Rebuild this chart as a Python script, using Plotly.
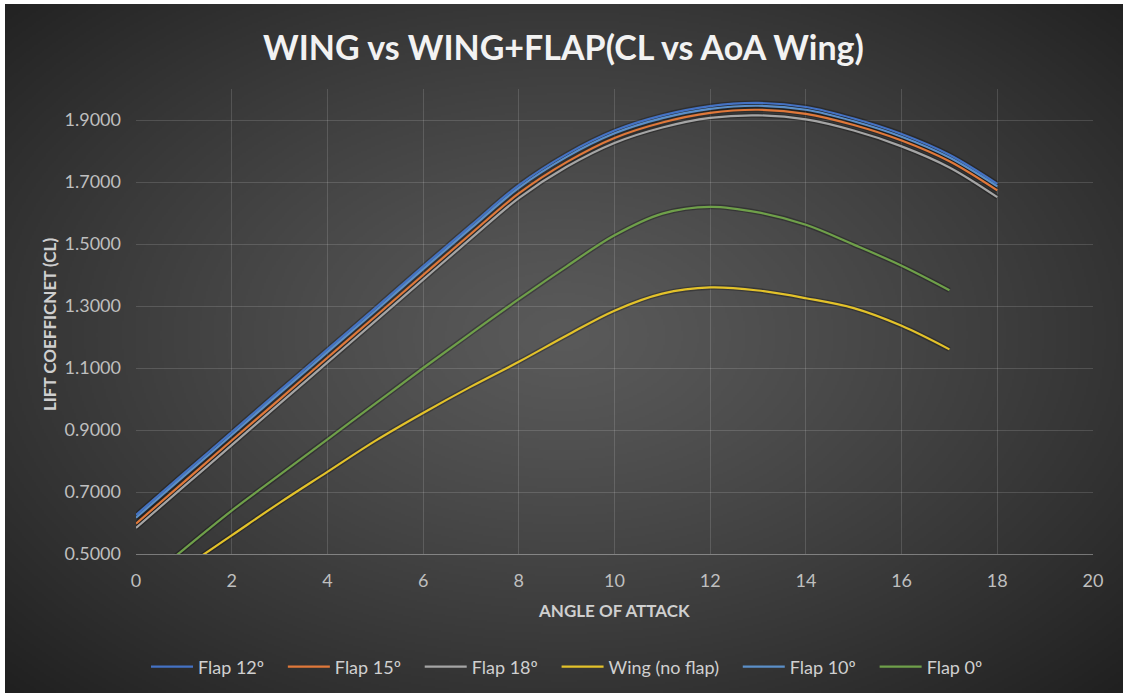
import base64
import struct
import zlib

import numpy as np
import plotly.graph_objects as go

# ---- data -------------------------------------------------------------
aoa_flap = [0, 1, 2, 3, 4, 5, 6, 7, 8, 9, 10, 11, 12, 13, 14, 15, 16, 17, 18]
aoa_short = [0, 1, 2, 3, 4, 5, 6, 7, 8, 9, 10, 11, 12, 13, 14, 15, 16, 17]

flap12 = [0.626, 0.760, 0.893, 1.027, 1.160, 1.293, 1.428, 1.560, 1.690, 1.790,
          1.866, 1.915, 1.945, 1.955, 1.942, 1.905, 1.855, 1.788, 1.694]
flap15 = [0.598, 0.732, 0.866, 0.999, 1.133, 1.266, 1.400, 1.533, 1.663, 1.764,
          1.842, 1.892, 1.923, 1.933, 1.920, 1.884, 1.834, 1.767, 1.673]
flap18 = [0.584, 0.718, 0.851, 0.985, 1.118, 1.251, 1.385, 1.518, 1.648, 1.749,
          1.826, 1.876, 1.907, 1.915, 1.902, 1.866, 1.815, 1.747, 1.651]
wing = [0.350, 0.455, 0.560, 0.665, 0.765, 0.865, 0.955, 1.040, 1.120, 1.205,
        1.285, 1.340, 1.360, 1.350, 1.325, 1.293, 1.236, 1.160]
flap10 = [0.617, 0.751, 0.884, 1.018, 1.151, 1.284, 1.419, 1.551, 1.681, 1.781,
          1.857, 1.906, 1.936, 1.946, 1.933, 1.896, 1.846, 1.779, 1.686]
flap0 = [0.390, 0.515, 0.640, 0.755, 0.870, 0.985, 1.100, 1.212, 1.322, 1.428,
         1.528, 1.598, 1.620, 1.602, 1.562, 1.498, 1.430, 1.351]

series_names = ["Flap 12º", "Flap 15º", "Flap 18º", "Wing (no flap)", "Flap 10º", "Flap 0º"]
series_x = [aoa_flap, aoa_flap, aoa_flap, aoa_short, aoa_flap, aoa_short]
series_y = [flap12, flap15, flap18, wing, flap10, flap0]
series_colors = ["#4472C4", "#E0783A", "#A5A5A5", "#E3C22A", "#5B8FC8", "#6FA04A"]

y_ticks = [0.5, 0.7, 0.9, 1.1, 1.3, 1.5, 1.7, 1.9]
x_ticks = [0, 2, 4, 6, 8, 10, 12, 14, 16, 18, 20]

# ---- geometry ---------------------------------------------------------
W, H = 1123, 693
L, R, T, B = 136, 30, 89, 139
PW, PH = W - L - R, H - T - B

FONT = "Lato, 'Open Sans', sans-serif"
LEGEND_PAD = "\u00a0" * 3  # extra room after each legend label


def px_to_paper_x(px):
    return (px - L) / PW


def px_to_paper_y(py):
    return (H - B - py) / PH


# ---- dark radial gradient background as an inline PNG -----------------
def gradient_png(w, h):
    yy, xx = np.mgrid[0:h, 0:w]
    dx = (xx / (w - 1) - 0.5) / 0.5
    dy = (yy / (h - 1) - 0.48) / 0.52
    r = np.sqrt((dx ** 2 + dy ** 2) / 2.0)
    v = 90.0 - 58.0 * np.clip(r, 0, 1.2) ** 1.2
    v = np.clip(v, 0, 255).astype(np.uint8)
    img = np.stack([v, v, v], axis=-1)
    raw = b"".join(b"\x00" + img[i].tobytes() for i in range(h))

    def chunk(tag, data):
        return (struct.pack(">I", len(data)) + tag + data
                + struct.pack(">I", zlib.crc32(tag + data) & 0xFFFFFFFF))

    png = (b"\x89PNG\r\n\x1a\n"
           + chunk(b"IHDR", struct.pack(">IIBBBBB", w, h, 8, 2, 0, 0, 0))
           + chunk(b"IDAT", zlib.compress(raw, 9))
           + chunk(b"IEND", b""))
    return "data:image/png;base64," + base64.b64encode(png).decode("ascii")


bg_src = gradient_png(560, 345)

fig = go.Figure()

# soft dark edge under each line
for xs, ys in zip(series_x, series_y):
    fig.add_trace(go.Scatter(
        x=xs, y=ys, mode="lines", line=dict(color="rgba(0,0,0,0.28)", width=5, shape="spline"),
        showlegend=False, hoverinfo="skip"))

for name, xs, ys, col in zip(series_names, series_x, series_y, series_colors):
    fig.add_trace(go.Scatter(
        x=xs, y=ys, mode="lines", name=name + LEGEND_PAD,
        line=dict(color=col, width=2.2, shape="spline")))

grid_col = "rgba(255,255,255,0.14)"

fig.update_layout(
    width=W, height=H,
    margin=dict(l=L, r=R, t=T, b=B, autoexpand=False),
    paper_bgcolor="white",
    plot_bgcolor="rgba(0,0,0,0)",
    showlegend=True,
    legend=dict(
        orientation="h", x=px_to_paper_x(574), xanchor="center",
        y=px_to_paper_y(667), yanchor="middle",
        font=dict(family=FONT, size=18, color="#d0d0d0"),
        bgcolor="rgba(0,0,0,0)", itemwidth=42,
    ),
    xaxis=dict(
        range=[0, 20], tickvals=x_ticks, showgrid=True, gridcolor=grid_col, gridwidth=1,
        zeroline=False, showline=True, linecolor="rgba(255,255,255,0.35)", linewidth=1,
        tickfont=dict(family=FONT, size=18, color="#bfbfbf"),
        ticks="", ticklabelstandoff=10, fixedrange=True,
    ),
    yaxis=dict(
        range=[0.5, 2.0], tickvals=y_ticks, tickformat=".4f", showgrid=True,
        gridcolor=grid_col, gridwidth=1, zeroline=False, showline=False,
        tickfont=dict(family=FONT, size=18, color="#bfbfbf"),
        ticks="", ticklabelstandoff=14, fixedrange=True,
    ),
    images=[dict(
        source=bg_src, xref="paper", yref="paper",
        x=px_to_paper_x(5), y=px_to_paper_y(4),
        sizex=(W - 5) / PW, sizey=(H - 4) / PH,
        xanchor="left", yanchor="top", sizing="stretch", layer="below",
    )],
    annotations=[
        dict(text="<b>WING vs WING+FLAP(CL vs AoA Wing)</b>", x=px_to_paper_x(563), y=px_to_paper_y(47),
             xref="paper", yref="paper", showarrow=False, xanchor="center", yanchor="middle",
             font=dict(family=FONT, size=34, color="#f2f2f2")),
        dict(text="<b>ANGLE OF ATTACK</b>", x=px_to_paper_x(614), y=px_to_paper_y(610),
             xref="paper", yref="paper", showarrow=False, xanchor="center", yanchor="middle",
             font=dict(family=FONT, size=17, color="#cfcfcf")),
        dict(text="<b>LIFT COEFFICNET (CL)</b>", x=px_to_paper_x(49), y=px_to_paper_y(325),
             xref="paper", yref="paper", showarrow=False, xanchor="center", yanchor="middle",
             textangle=-90, font=dict(family=FONT, size=17, color="#cfcfcf")),
    ],
)

fig.write_html("out.html")
